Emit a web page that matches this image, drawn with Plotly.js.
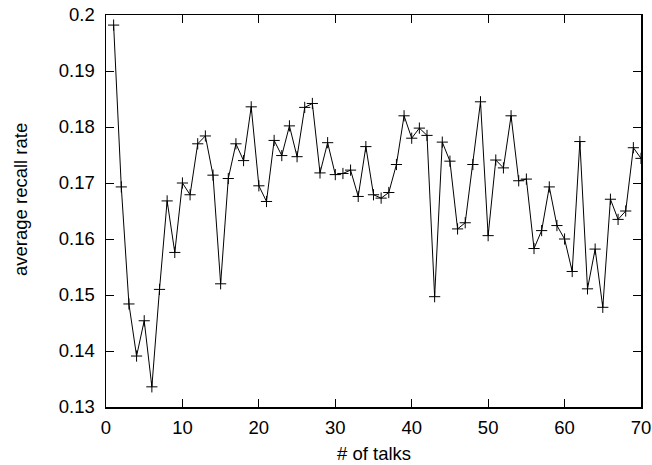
<!DOCTYPE html>
<html>
<head>
<meta charset="utf-8">
<script src="https://cdn.plot.ly/plotly-3.0.1.min.js"></script>
<style>html,body{margin:0;padding:0;background:#fff;}#chart{width:652px;height:465px;}</style>
</head>
<body>
<div id="chart"></div>
<script>
const talks = [];
for (let i = 1; i <= 70; i++) talks.push(i);
const recall = [
  0.1982, 0.1693, 0.1484, 0.1391, 0.1454, 0.1336, 0.1510, 0.1668, 0.1576, 0.1700,
  0.1679, 0.1770, 0.1784, 0.1714, 0.1520, 0.1708, 0.1770, 0.1740, 0.1836, 0.1695,
  0.1667, 0.1776, 0.1749, 0.1802, 0.1747, 0.1835, 0.1842, 0.1718, 0.1772, 0.1715,
  0.1717, 0.1723, 0.1676, 0.1765, 0.1679, 0.1673, 0.1683, 0.1733, 0.1820, 0.1780,
  0.1798, 0.1785, 0.1497, 0.1773, 0.1739, 0.1618, 0.1629, 0.1733, 0.1845, 0.1606,
  0.1741, 0.1727, 0.1820, 0.1704, 0.1707, 0.1583, 0.1615, 0.1693, 0.1624, 0.1600,
  0.1542, 0.1774, 0.1511, 0.1582, 0.1478, 0.1671, 0.1635, 0.1650, 0.1763, 0.1744
];
const xTicks = [0, 10, 20, 30, 40, 50, 60, 70];
const yTicks = [0.13, 0.14, 0.15, 0.16, 0.17, 0.18, 0.19, 0.2];
const yTickText = ['0.13', '0.14', '0.15', '0.16', '0.17', '0.18', '0.19', '0.2'];
const xTitle = '# of talks';
const yTitle = 'average recall rate';

const fontFam = 'Liberation Sans, Arial, sans-serif';
const fs = 18.5;
const trace = {
  x: talks, y: recall, type: 'scatter', mode: 'lines+markers',
  line: {color: '#000', width: 1},
  marker: {symbol: 'cross-thin-open', size: 8, color: '#000', line: {color: '#000', width: 1}},
  cliponaxis: true, hoverinfo: 'skip'
};
const axisCommon = {
  showline: true, linecolor: '#000', linewidth: 1.5, mirror: 'allticks',
  ticks: 'inside', ticklen: 8, tickwidth: 1, tickcolor: '#000',
  showgrid: false, zeroline: false,
  tickfont: {family: fontFam, size: fs, color: '#000'}
};
const layout = {
  width: 652, height: 465,
  margin: {l: 106, r: 11, t: 15, b: 58},
  paper_bgcolor: '#fff', plot_bgcolor: '#fff',
  showlegend: false,
  xaxis: Object.assign({}, axisCommon, {range: [0, 70], tickvals: xTicks, ticktext: xTicks.map(String), ticklabelstandoff: 3}),
  yaxis: Object.assign({}, axisCommon, {range: [0.13, 0.2], tickvals: yTicks, ticktext: yTickText, ticklabelstandoff: 6}),
  annotations: [
    {text: xTitle, xref: 'paper', yref: 'paper', x: 0.5, y: 0, yshift: -46, showarrow: false,
     xanchor: 'center', yanchor: 'middle', font: {family: fontFam, size: fs, color: '#000'}},
    {text: yTitle, xref: 'paper', yref: 'paper', x: 0, y: 0.5, xshift: -86, yshift: 11, showarrow: false, textangle: -90,
     xanchor: 'center', yanchor: 'middle', font: {family: fontFam, size: fs, color: '#000'}}
  ]
};
Plotly.newPlot('chart', [trace], layout, {staticPlot: true, displayModeBar: false});
</script>
</body>
</html>
